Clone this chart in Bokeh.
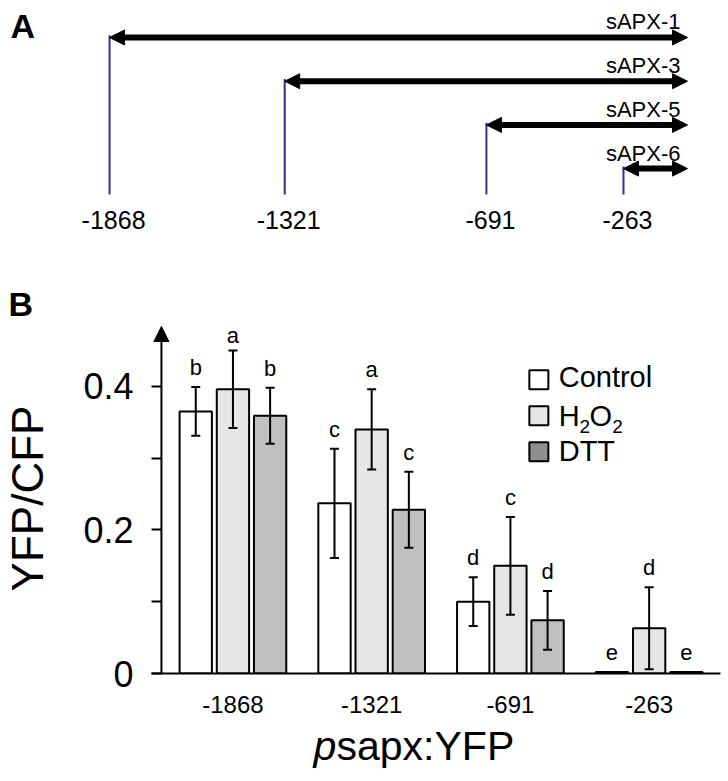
import math
from bokeh.plotting import figure
from bokeh.models import (Range1d, ColumnDataSource, Arrow, NormalHead, TeeHead, Whisker,
                          FixedTicker, NumeralTickFormatter)
from bokeh.transform import dodge
from bokeh.core.properties import value
from bokeh.embed import file_html
from bokeh.resources import INLINE

FONT = "Liberation Sans"

# ---------------- data: panel A (promoter deletion constructs) ----------------
positions = [-1868, -1321, -691, -263]
construct_names = ["sAPX-1", "sAPX-3", "sAPX-5", "sAPX-6"]
construct_rows = [0, 1, 2, 3]
arrow_end = [-63, -63, -63, -63]
position_labels = ["-1868", "-1321", "-691", "-263"]

# ---------------- data: panel B (YFP/CFP) ----------------
groups = [0, 1, 2, 3]
group_labels = ["-1868", "-1321", "-691", "-263"]
control = [0.365, 0.237, 0.100, 0.002]
control_err = [0.034, 0.076, 0.034, 0.0]
h2o2 = [0.396, 0.340, 0.150, 0.063]
h2o2_err = [0.054, 0.056, 0.068, 0.057]
dtt = [0.359, 0.228, 0.074, 0.002]
dtt_err = [0.039, 0.053, 0.041, 0.0]
letters_control = ["b", "c", "d", "e"]
letters_h2o2 = ["a", "a", "c", "d"]
letters_dtt = ["b", "c", "d", "e"]


def txt(p, x, y, t, size, align="left", style="normal", **kw):
    p.text(x=x, y=y, text=t, text_font=value(FONT), text_font_size=size,
           text_align=align, text_baseline="middle", text_color="black",
           text_font_style=style, **kw)


# ======================= Panel A (+ "B" heading) =======================
pA = figure(width=728, height=323, x_range=Range1d(-2208.6, 65), y_range=Range1d(6.545, -0.847),
            x_axis_location=None, y_axis_location=None, output_backend="svg",
            toolbar_location=None, min_border=0, title=None)
pA.xgrid.visible = False
pA.ygrid.visible = False
pA.outline_line_color = None

srcA = ColumnDataSource(dict(
    pos=positions, row=construct_rows, end=arrow_end, name=construct_names,
    top=[r - 0.05 for r in construct_rows], bottom=[3.59] * 4,
    lab=position_labels, name_y=[r - 0.355 for r in construct_rows],
    lab_y=[4.165] * 4, name_x=[-85] * 4,
))
pA.segment(x0="pos", y0="top", x1="pos", y1="bottom", source=srcA,
           line_color="#2e2e9e", line_width=2)
pA.add_layout(Arrow(start=NormalHead(size=15, fill_color="black", line_color="black"),
                    end=NormalHead(size=15, fill_color="black", line_color="black"),
                    x_start="pos", y_start="row", x_end="end", y_end="row",
                    source=srcA, line_width=6, line_color="black"))
txt(pA, "name_x", "name_y", "name", "22px", align="right", source=srcA)
txt(pA, "pos", "lab_y", "lab", "25px", align="center", source=srcA, x_offset=4)
txt(pA, [-2177], [-0.27], ["A"], "34px", style="bold")
txt(pA, [-2183.6], [6.110], ["B"], "34px", style="bold")

# ======================= Panel B =======================
YTOP = 0.4875
pB = figure(width=728, height=399, x_range=Range1d(-0.587, 3.572), y_range=Range1d(0, YTOP),
            min_border_left=147, min_border_right=0, min_border_top=0, min_border_bottom=49,
            output_backend="svg", toolbar_location=None, title=None)
pB.xgrid.visible = False
pB.ygrid.visible = False
pB.outline_line_color = None

AXIS_X = -0.5154
OFF = 0.268
BW = 0.233
LETTER_MAX = 0.4703
colors = ["#ffffff", "#e6e6e6", "#c0c0c0"]
legend_colors = ["#ffffff", "#e6e6e6", "#8f8f8f"]
series = [(control, control_err, letters_control, -OFF, colors[0]),
          (h2o2, h2o2_err, letters_h2o2, 0.0, colors[1]),
          (dtt, dtt_err, letters_dtt, OFF, colors[2])]

for vals, errs, lets, off, col in series:
    hi = [v + e for v, e in zip(vals, errs)]
    lo = [v - e for v, e in zip(vals, errs)]
    src = ColumnDataSource(dict(g=groups, v=vals, hi=hi, lo=lo, let=lets,
                                ly=[min(h + 0.0273, LETTER_MAX) for h in hi]))
    pB.vbar(x=dodge("g", off), top="v", bottom=0, width=BW, source=src,
            fill_color=col, line_color="black", line_width=2)
    pB.add_layout(Whisker(source=src, base=dodge("g", off), upper="hi", lower="lo",
                          level="annotation", line_width=2, line_color="black",
                          upper_head=TeeHead(size=9, line_width=2, line_color="black"),
                          lower_head=TeeHead(size=9, line_width=2, line_color="black")))
    txt(pB, dodge("g", off), "ly", "let", "22px", align="center", source=src)

# x axis
xa = pB.xaxis[0]
xa.ticker = FixedTicker(ticks=groups)
xa.major_label_overrides = {g: l for g, l in zip(groups, group_labels)}
xa.bounds = (-0.587, 3.515)
xa.major_tick_out = 0
xa.major_tick_in = 0
xa.minor_tick_out = 0
xa.minor_tick_in = 0
xa.axis_line_width = 2
xa.axis_line_color = "black"
xa.major_label_text_font = FONT
xa.major_label_text_font_size = "24px"
xa.major_label_text_color = "black"
xa.major_label_standoff = 22

# y axis: ticks point into the frame up to the axis line, which is drawn as an arrow
ya = pB.yaxis[0]
ya.ticker = FixedTicker(ticks=[0, 0.2, 0.4], minor_ticks=[0.1, 0.3])
ya.formatter = NumeralTickFormatter(format="0.[0]")
ya.major_tick_out = 0
ya.major_tick_in = 10
ya.minor_tick_out = 0
ya.minor_tick_in = 10
ya.major_tick_line_width = 2
ya.minor_tick_line_width = 2
ya.major_tick_line_color = "black"
ya.minor_tick_line_color = "black"
ya.axis_line_color = None
ya.major_label_text_font = FONT
ya.major_label_text_font_size = "36px"
ya.major_label_text_color = "black"
ya.major_label_standoff = 18
ya.axis_label = "YFP/CFP"
ya.axis_label_text_font = FONT
ya.axis_label_text_font_size = "44px"
ya.axis_label_text_font_style = "normal"
ya.axis_label_text_color = "black"
ya.axis_label_standoff = 28

pB.add_layout(Arrow(end=NormalHead(size=15, fill_color="black", line_color="black"),
                    x_start=AXIS_X, y_start=0, x_end=AXIS_X, y_end=0.4833,
                    line_width=2, line_color="black"))

# legend (drawn manually to allow subscripts)
leg_y = [0.409, 0.359, 0.309]
pB.scatter(x=[2.205] * 3, y=leg_y, marker="square", size=19, fill_color=legend_colors,
           line_color="black", line_width=2)
txt(pB, [2.348], [0.4123], ["Control"], "29px")
txt(pB, [2.348], [0.3099], ["DTT"], "29px")
px = 1 / 139.7
for t, dx, fs, yy in [("H", 0, "29px", 0.3593), ("2", 21, "19px", 0.3447),
                      ("O", 31, "29px", 0.3593), ("2", 54, "19px", 0.3447)]:
    txt(pB, [2.348 + dx * px], [yy], [t], fs)

# ======================= x-axis title strip =======================
pC = figure(width=728, height=59, x_range=Range1d(0, 728), y_range=Range1d(59, 0),
            x_axis_location=None, y_axis_location=None, output_backend="svg",
            toolbar_location=None, min_border=0, title=None)
pC.xgrid.visible = False
pC.ygrid.visible = False
pC.outline_line_color = None
txt(pC, [313], [23], ["p"], "41px", style="italic")
txt(pC, [336], [23], ["sapx:YFP"], "41px")

open("out.html", "w").write(file_html([pA, pB, pC], INLINE))
